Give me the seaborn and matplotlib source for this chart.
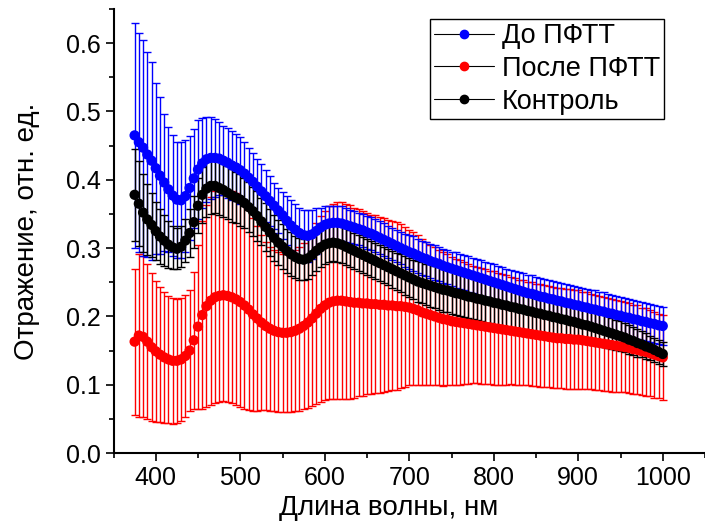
import numpy as np
import pandas as pd
import matplotlib
matplotlib.use("Agg")
import matplotlib.pyplot as plt
import seaborn as sns
from matplotlib.lines import Line2D
from matplotlib.ticker import MultipleLocator

# ==========================================
# DATA
# ==========================================

wavelength = [
    375, 380, 385, 390, 395, 400, 405, 410, 415, 420,
    425, 430, 435, 440, 445, 450, 455, 460, 465, 470,
    475, 480, 485, 490, 495, 500, 505, 510, 515, 520,
    525, 530, 535, 540, 545, 550, 555, 560, 565, 570,
    575, 580, 585, 590, 595, 600, 605, 610, 615, 620,
    625, 630, 635, 640, 645, 650, 655, 660, 665, 670,
    675, 680, 685, 690, 695, 700, 705, 710, 715, 720,
    725, 730, 735, 740, 745, 750, 755, 760, 765, 770,
    775, 780, 785, 790, 795, 800, 805, 810, 815, 820,
    825, 830, 835, 840, 845, 850, 855, 860, 865, 870,
    875, 880, 885, 890, 895, 900, 905, 910, 915, 920,
    925, 930, 935, 940, 945, 950, 955, 960, 965, 970,
    975, 980, 985, 990, 995, 1000,
]

before_mean = [
    0.465, 0.455, 0.447, 0.437, 0.428, 0.417, 0.406, 0.396, 0.386, 0.377,
    0.371, 0.370, 0.376, 0.388, 0.402, 0.415, 0.424, 0.430, 0.432, 0.432,
    0.431, 0.428, 0.425, 0.421, 0.418, 0.414, 0.409, 0.403, 0.397, 0.390,
    0.383, 0.376, 0.369, 0.362, 0.355, 0.348, 0.340, 0.333, 0.327, 0.322,
    0.319, 0.318, 0.320, 0.325, 0.330, 0.334, 0.336, 0.337, 0.337, 0.336,
    0.334, 0.332, 0.330, 0.328, 0.326, 0.323, 0.321, 0.318, 0.315, 0.312,
    0.309, 0.306, 0.303, 0.300, 0.297, 0.294, 0.292, 0.289, 0.286, 0.284,
    0.281, 0.279, 0.277, 0.274, 0.272, 0.270, 0.268, 0.266, 0.264, 0.262,
    0.260, 0.258, 0.256, 0.254, 0.252, 0.250, 0.248, 0.246, 0.244, 0.242,
    0.240, 0.238, 0.236, 0.234, 0.233, 0.231, 0.229, 0.228, 0.226, 0.225,
    0.223, 0.222, 0.220, 0.219, 0.217, 0.216, 0.214, 0.213, 0.211, 0.210,
    0.208, 0.207, 0.205, 0.204, 0.202, 0.201, 0.199, 0.198, 0.196, 0.195,
    0.193, 0.192, 0.190, 0.189, 0.187, 0.186,
]
before_err = [
    0.165, 0.160, 0.158, 0.150, 0.145, 0.125, 0.115, 0.100, 0.092, 0.088,
    0.085, 0.085, 0.082, 0.076, 0.072, 0.072, 0.066, 0.062, 0.060, 0.057,
    0.054, 0.051, 0.051, 0.050, 0.049, 0.049, 0.046, 0.044, 0.042, 0.041,
    0.040, 0.038, 0.036, 0.034, 0.033, 0.034, 0.036, 0.037, 0.037, 0.037,
    0.037, 0.038, 0.036, 0.033, 0.029, 0.027, 0.026, 0.025, 0.025, 0.025,
    0.025, 0.024, 0.024, 0.024, 0.024, 0.024, 0.024, 0.024, 0.024, 0.024,
    0.024, 0.024, 0.024, 0.024, 0.024, 0.025, 0.025, 0.025, 0.025, 0.025,
    0.025, 0.025, 0.025, 0.025, 0.025, 0.025, 0.026, 0.026, 0.026, 0.026,
    0.026, 0.026, 0.026, 0.026, 0.026, 0.026, 0.026, 0.026, 0.026, 0.026,
    0.026, 0.027, 0.027, 0.027, 0.027, 0.027, 0.027, 0.027, 0.027, 0.027,
    0.027, 0.027, 0.027, 0.027, 0.027, 0.027, 0.027, 0.027, 0.027, 0.028,
    0.028, 0.028, 0.028, 0.028, 0.028, 0.028, 0.028, 0.028, 0.028, 0.028,
    0.028, 0.028, 0.028, 0.028, 0.028, 0.028,
]

after_mean = [
    0.163, 0.172, 0.170, 0.163, 0.155, 0.149, 0.144, 0.140, 0.137, 0.135,
    0.135, 0.137, 0.142, 0.150, 0.165, 0.185, 0.202, 0.215, 0.223, 0.228,
    0.230, 0.231, 0.230, 0.228, 0.225, 0.221, 0.216, 0.210, 0.203, 0.197,
    0.191, 0.186, 0.182, 0.179, 0.177, 0.176, 0.176, 0.177, 0.179, 0.182,
    0.186, 0.191, 0.197, 0.204, 0.211, 0.216, 0.220, 0.222, 0.223, 0.223,
    0.222, 0.221, 0.220, 0.220, 0.219, 0.219, 0.218, 0.218, 0.217, 0.217,
    0.216, 0.216, 0.215, 0.215, 0.214, 0.213, 0.211, 0.209, 0.206, 0.204,
    0.202, 0.200, 0.198, 0.196, 0.195, 0.193, 0.192, 0.191, 0.190, 0.189,
    0.188, 0.187, 0.186, 0.185, 0.184, 0.183, 0.182, 0.181, 0.180, 0.179,
    0.178, 0.177, 0.176, 0.175, 0.174, 0.173, 0.172, 0.171, 0.170, 0.169,
    0.168, 0.168, 0.167, 0.167, 0.166, 0.166, 0.165, 0.164, 0.163, 0.162,
    0.161, 0.160, 0.159, 0.158, 0.157, 0.156, 0.155, 0.154, 0.152, 0.151,
    0.149, 0.148, 0.146, 0.144, 0.142, 0.140,
]
after_err = [
    0.107, 0.120, 0.118, 0.113, 0.108, 0.103, 0.099, 0.096, 0.093, 0.092,
    0.091, 0.090, 0.090, 0.088, 0.100, 0.120, 0.138, 0.148, 0.152, 0.155,
    0.155, 0.155, 0.155, 0.155, 0.155, 0.154, 0.151, 0.147, 0.141, 0.135,
    0.128, 0.123, 0.120, 0.118, 0.117, 0.116, 0.116, 0.117, 0.118, 0.120,
    0.122, 0.125, 0.128, 0.132, 0.136, 0.139, 0.141, 0.143, 0.144, 0.144,
    0.143, 0.142, 0.139, 0.137, 0.135, 0.133, 0.131, 0.130, 0.129, 0.127,
    0.125, 0.124, 0.123, 0.120, 0.117, 0.114, 0.112, 0.110, 0.107, 0.105,
    0.103, 0.101, 0.099, 0.098, 0.096, 0.094, 0.092, 0.091, 0.089, 0.088,
    0.086, 0.085, 0.085, 0.084, 0.083, 0.083, 0.082, 0.081, 0.080, 0.078,
    0.078, 0.077, 0.077, 0.076, 0.076, 0.075, 0.075, 0.075, 0.074, 0.074,
    0.073, 0.073, 0.073, 0.073, 0.072, 0.072, 0.071, 0.071, 0.070, 0.070,
    0.069, 0.069, 0.068, 0.068, 0.067, 0.067, 0.066, 0.066, 0.065, 0.065,
    0.064, 0.064, 0.063, 0.063, 0.062, 0.062,
]

control_mean = [
    0.378, 0.365, 0.352, 0.342, 0.334, 0.325, 0.317, 0.311, 0.305, 0.301,
    0.299, 0.302, 0.311, 0.322, 0.338, 0.362, 0.378, 0.387, 0.391, 0.391,
    0.388, 0.385, 0.381, 0.377, 0.374, 0.371, 0.366, 0.360, 0.354, 0.347,
    0.339, 0.331, 0.323, 0.315, 0.308, 0.302, 0.296, 0.291, 0.287, 0.284,
    0.283, 0.285, 0.290, 0.296, 0.301, 0.305, 0.307, 0.308, 0.307, 0.305,
    0.302, 0.299, 0.296, 0.293, 0.290, 0.287, 0.284, 0.281, 0.278, 0.275,
    0.272, 0.269, 0.266, 0.263, 0.260, 0.257, 0.254, 0.251, 0.249, 0.247,
    0.245, 0.243, 0.241, 0.239, 0.238, 0.236, 0.234, 0.233, 0.231, 0.229,
    0.228, 0.226, 0.225, 0.223, 0.222, 0.220, 0.219, 0.217, 0.216, 0.214,
    0.213, 0.211, 0.210, 0.208, 0.207, 0.205, 0.204, 0.202, 0.201, 0.199,
    0.198, 0.196, 0.195, 0.193, 0.192, 0.190, 0.188, 0.187, 0.185, 0.183,
    0.181, 0.179, 0.177, 0.175, 0.173, 0.171, 0.169, 0.166, 0.164, 0.161,
    0.159, 0.156, 0.154, 0.151, 0.148, 0.145,
]
control_err = [
    0.067, 0.062, 0.057, 0.052, 0.047, 0.043, 0.040, 0.037, 0.034, 0.032,
    0.030, 0.030, 0.032, 0.035, 0.038, 0.040, 0.041, 0.041, 0.041, 0.040,
    0.040, 0.040, 0.039, 0.039, 0.038, 0.038, 0.037, 0.037, 0.036, 0.036,
    0.035, 0.035, 0.034, 0.034, 0.033, 0.033, 0.032, 0.032, 0.031, 0.031,
    0.030, 0.030, 0.029, 0.029, 0.028, 0.028, 0.028, 0.027, 0.027, 0.027,
    0.027, 0.027, 0.026, 0.026, 0.026, 0.026, 0.026, 0.026, 0.026, 0.026,
    0.026, 0.027, 0.027, 0.028, 0.028, 0.029, 0.029, 0.030, 0.030, 0.030,
    0.031, 0.031, 0.031, 0.032, 0.032, 0.032, 0.032, 0.032, 0.032, 0.032,
    0.032, 0.032, 0.032, 0.032, 0.032, 0.032, 0.032, 0.032, 0.032, 0.032,
    0.032, 0.032, 0.031, 0.031, 0.031, 0.031, 0.030, 0.030, 0.030, 0.030,
    0.029, 0.029, 0.028, 0.028, 0.027, 0.027, 0.026, 0.026, 0.025, 0.025,
    0.024, 0.024, 0.023, 0.023, 0.022, 0.022, 0.021, 0.021, 0.020, 0.020,
    0.019, 0.019, 0.018, 0.018, 0.017, 0.017,
]

series_names = ["До ПФТТ", "После ПФТТ", "Контроль"]
series_colors = ["#0000ff", "#ff0000", "#000000"]

# ==========================================
# BUILD LONG TABLE
# ==========================================

frames = []
for name, m, e in zip(series_names,
                      [before_mean, after_mean, control_mean],
                      [before_err, after_err, control_err]):
    frames.append(pd.DataFrame({"wl": wavelength, "val": m, "err": e, "series": name}))
df = pd.concat(frames, ignore_index=True)

# ==========================================
# PLOT
# ==========================================

sns.set_style("ticks")
plt.rcParams["font.family"] = ["Liberation Sans", "DejaVu Sans"]
plt.rcParams["text.color"] = "black"
plt.rcParams["axes.labelcolor"] = "black"

fig = plt.figure(figsize=(7.05, 5.27), dpi=100)
ax = fig.add_axes([0.161, 0.1404, 0.839, 0.8425])

# error bars first (red, blue, black order)
draw_order = ["После ПФТТ", "До ПФТТ", "Контроль"]
for name in draw_order:
    sub = df[df["series"] == name]
    col = series_colors[series_names.index(name)]
    ax.errorbar(sub["wl"], sub["val"], yerr=sub["err"], fmt="none",
                ecolor=col, elinewidth=1.0, capsize=3, capthick=1.0, zorder=2)

# markers on top
for name in draw_order:
    sub = df[df["series"] == name]
    col = series_colors[series_names.index(name)]
    sns.scatterplot(data=sub, x="wl", y="val", color=col, s=55,
                    edgecolor="none", linewidth=0, legend=False, ax=ax, zorder=3)

ax.set_xlim(350, 1050)
ax.set_ylim(0, 0.65)
ax.xaxis.set_major_locator(MultipleLocator(100))
ax.xaxis.set_minor_locator(MultipleLocator(50))
ax.yaxis.set_major_locator(MultipleLocator(0.1))
ax.yaxis.set_minor_locator(MultipleLocator(0.05))
ax.tick_params(which="major", direction="out", length=6, width=1.2,
               labelsize=18, color="black", labelcolor="black", pad=3)
ax.tick_params(which="minor", direction="out", length=3.5, width=1.2, color="black")

for s in ["top", "right"]:
    ax.spines[s].set_visible(False)
for s in ["left", "bottom"]:
    ax.spines[s].set_linewidth(1.5)
    ax.spines[s].set_color("black")

ax.set_xlabel("Длина волны, нм", fontsize=20)
ax.set_ylabel("Отражение, отн. ед.", fontsize=20)
ax.xaxis.set_label_coords((675 - 350) / 700, -0.095)
ax.yaxis.set_label_coords(-0.125, 0.5)

handles = [Line2D([0], [0], color="black", lw=0.8, marker="o", markersize=6,
                  markerfacecolor=c, markeredgecolor=c)
           for c in series_colors]
leg = ax.legend(handles, series_names, loc="upper left",
                bbox_to_anchor=(430 / 705, 1 - 19 / 527),
                bbox_transform=fig.transFigure, fontsize=19.5,
                frameon=True, fancybox=False, framealpha=1, edgecolor="black",
                borderpad=0.15, labelspacing=0.25, handlelength=2.2,
                handletextpad=0.3, borderaxespad=0)
leg.get_frame().set_linewidth(1.0)

fig.savefig("out.png", dpi=100)
